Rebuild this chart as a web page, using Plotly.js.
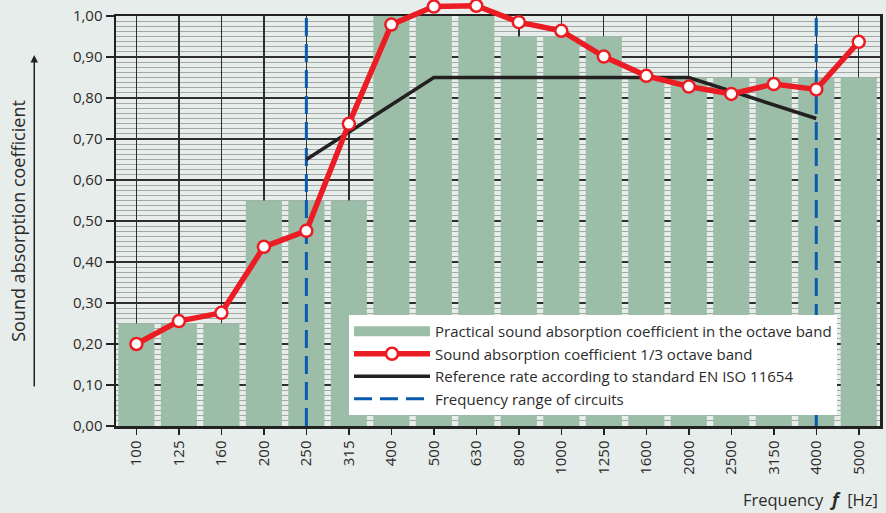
<!DOCTYPE html>
<html>
<head>
<meta charset="utf-8">
<script src="https://cdn.plot.ly/plotly-3.0.1.min.js"></script>
<style>
html,body{margin:0;padding:0;background:#e7edeb;}
#chart{width:886px;height:513px;}
</style>
</head>
<body>
<div id="chart"></div>
<script>
const frequencies = ['100','125','160','200','250','315','400','500','630','800','1000','1250','1600','2000','2500','3150','4000','5000'];
const octaveBand = [0.25,0.25,0.25,0.55,0.55,0.55,1.00,1.00,1.00,0.95,0.95,0.95,0.85,0.85,0.85,0.85,0.85,0.85];
const thirdOctave = [0.20,0.256,0.276,0.437,0.476,0.737,0.979,1.023,1.025,0.985,0.964,0.901,0.854,0.828,0.810,0.834,0.821,0.937];
const refFreq = ['250','500','1000','2000','4000'];
const refRate = [0.65,0.85,0.85,0.85,0.75];
const rangeLow = ['250','250'];
const rangeHigh = ['4000','4000'];
const rangeY = [0,1];
const yTicks = [0,0.1,0.2,0.3,0.4,0.5,0.6,0.7,0.8,0.9,1.0];

const FONT = 'Open Sans, Noto Sans, sans-serif';
const TXT = '#2b2b2b';
const BG = '#e7edeb';
const BAR = '#9cbea9';
const BLUE = '#0a5aae';
const RED = '#ec1c24';

// plot-area geometry (pixels): bottom of data area at 426, value 1.0 at 16
const PLOT_H = 426, DATA_H = 410;

const traces = [
  {type:'bar', x:frequencies, y:octaveBand, name:'Practical sound absorption coefficient in the octave band',
   marker:{color:BAR, line:{width:0}}, showlegend:false},
  {type:'scatter', mode:'lines', x:[null], y:[null], name:'Practical sound absorption coefficient in the octave band',
   line:{color:BAR, width:13}, legendrank:1},
  {type:'scatter', mode:'lines', x:rangeLow, y:rangeY, name:'Frequency range of circuits',
   line:{color:BLUE, width:3, dash:'18px,8px'}, legendrank:4},
  {type:'scatter', mode:'lines', x:rangeHigh, y:rangeY, showlegend:false,
   line:{color:BLUE, width:3, dash:'18px,8px'}},
  {type:'scatter', mode:'lines', x:refFreq, y:refRate, name:'Reference rate according to standard EN ISO 11654',
   line:{color:'#222021', width:3.5}, legendrank:3},
  {type:'scatter', mode:'lines+markers', x:frequencies, y:thirdOctave, xaxis:'x2', yaxis:'y2',
   name:'Sound absorption coefficient 1/3 octave band',
   line:{color:RED, width:5.5}, marker:{size:12, color:'#ffffff', line:{color:RED, width:2.5}},
   cliponaxis:false, legendrank:2}
];

const layout = {
  width:886, height:513,
  paper_bgcolor:BG, plot_bgcolor:'rgba(0,0,0,0)',
  margin:{l:116, r:6, t:0, b:87},
  separators:', ',
  font:{family:FONT, size:15, color:TXT},
  bargap:0.15,
  showlegend:true,
  legend:{x:(349-116)/764, y:(PLOT_H-315)/PLOT_H, xanchor:'left', yanchor:'top', bgcolor:'#ffffff', borderwidth:0,
          font:{family:FONT, size:15, color:TXT}, itemwidth:76, tracegroupgap:0},
  xaxis:{type:'category', categoryorder:'array', categoryarray:frequencies, anchor:'y',
         range:[-0.48,17.5], tickangle:-90, ticks:'outside', ticklen:6, tickwidth:1.5, tickcolor:'#222',
         showgrid:true, gridcolor:'#2e2e2e', gridwidth:1.4,
         showline:true, linecolor:'#222', linewidth:2.5, mirror:true,
         tickfont:{family:FONT, size:15, color:TXT}, fixedrange:true},
  yaxis:{domain:[0, DATA_H/PLOT_H], anchor:'x', range:[0,1], tickvals:yTicks, tickformat:'.2f',
         ticks:'outside', ticklen:8, tickwidth:2, tickcolor:'#222',
         showgrid:true, gridcolor:'#2e2e2e', gridwidth:1.4,
         minor:{dtick:0.0125, showgrid:true, gridcolor:'#a3a9a7', gridwidth:1, ticks:''},
         showline:true, linecolor:'#222', linewidth:2.5, mirror:true, zeroline:false,
         title:{text:'Sound absorption coefficient', font:{family:FONT, size:18, color:TXT}, standoff:43},
         tickfont:{family:FONT, size:15, color:TXT}, fixedrange:true},
  xaxis2:{type:'category', categoryorder:'array', categoryarray:frequencies, anchor:'y2',
          range:[-0.48,17.5], visible:false, showgrid:false, fixedrange:true},
  yaxis2:{domain:[0,1], anchor:'x2', range:[0, PLOT_H/DATA_H], visible:false, showgrid:false, zeroline:false, fixedrange:true},
  annotations:[
    {xref:'paper', yref:'paper', x:-0.107, y:(PLOT_H-55)/PLOT_H, ax:0, ay:333, axref:'pixel', ayref:'pixel',
     showarrow:true, arrowhead:2, arrowsize:1, arrowwidth:1.5, arrowcolor:'#222', text:''},
    {xref:'paper', yref:'paper', x:1.0, y:(PLOT_H-499)/PLOT_H, xanchor:'right', yanchor:'middle', showarrow:false,
     text:'Frequency\u00a0\u00a0<b><i><span style="font-size:18px">f</span></i></b>\u00a0\u00a0[Hz]', font:{family:FONT, size:16.5, color:TXT}}
  ]
};

Plotly.newPlot('chart', traces, layout, {displayModeBar:false, staticPlot:true});
</script>
</body>
</html>
